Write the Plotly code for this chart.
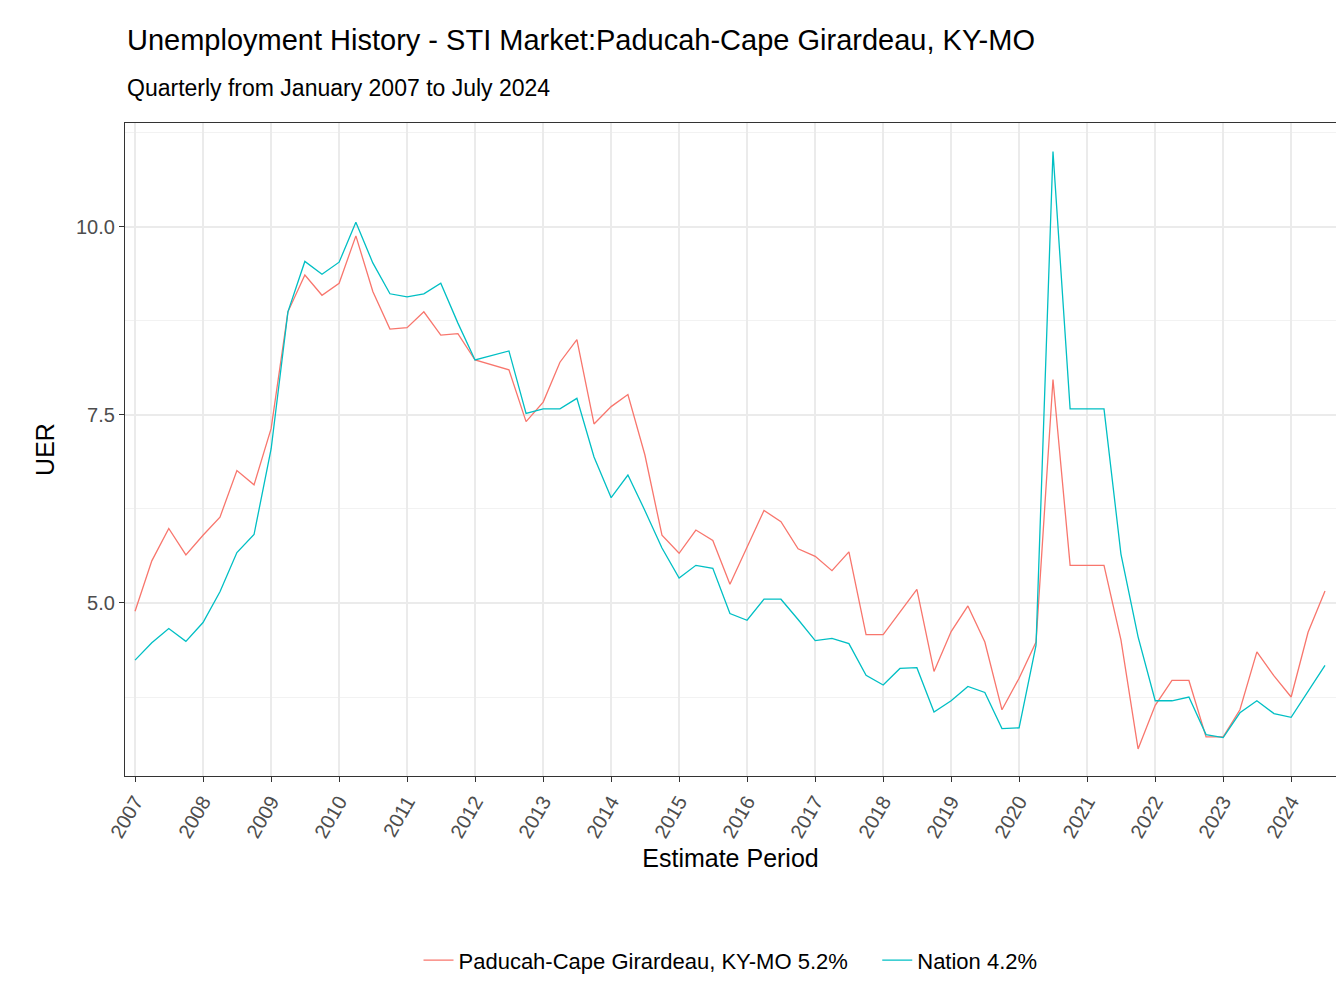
import pandas as pd
import plotly.graph_objects as go

periods = pd.date_range("2007-01-01", "2024-07-01", freq="QS")

paducah = [4.89, 5.56, 5.99, 5.64, 5.90, 6.14, 6.76, 6.57, 7.32, 8.87, 9.36, 9.09, 9.25, 9.88,
           9.14, 8.64, 8.66, 8.87, 8.56, 8.58, 8.23, 8.16, 8.10, 7.41, 7.67, 8.20, 8.50, 7.38,
           7.61, 7.77, 6.97, 5.90, 5.66, 5.97, 5.83, 5.25, 5.75, 6.23, 6.08, 5.72, 5.62, 5.43,
           5.68, 4.58, 4.58, 4.88, 5.18, 4.09, 4.62, 4.96, 4.48, 3.58, 4.00, 4.48, 7.97, 5.50,
           5.50, 5.50, 4.51, 3.06, 3.64, 3.97, 3.97, 3.22, 3.22, 3.58, 4.35, 4.03, 3.75, 4.61, 5.16]
nation = [4.24, 4.47, 4.66, 4.49, 4.74, 5.15, 5.67, 5.91, 7.05, 8.87, 9.54, 9.37, 9.53, 10.06,
          9.52, 9.11, 9.07, 9.11, 9.25, 8.72, 8.23, 8.29, 8.35, 7.52, 7.58, 7.58, 7.72, 6.94,
          6.40, 6.70, 6.23, 5.73, 5.33, 5.50, 5.46, 4.86, 4.77, 5.05, 5.05, 4.78, 4.50, 4.53,
          4.46, 4.04, 3.91, 4.13, 4.14, 3.55, 3.70, 3.89, 3.81, 3.33, 3.34, 4.44, 11.0, 7.58,
          7.58, 7.58, 5.65, 4.55, 3.70, 3.70, 3.75, 3.25, 3.21, 3.54, 3.70, 3.53, 3.48, 3.83, 4.17]

year_ticks = [f"{y}-01-01" for y in range(2007, 2025)]
year_labels = [str(y) for y in range(2007, 2025)]

fig = go.Figure()
fig.add_trace(go.Scatter(x=periods, y=paducah, mode="lines",
                         name="Paducah-Cape Girardeau, KY-MO 5.2%    ",
                         line=dict(color="#F8766D", width=1.3)))
fig.add_trace(go.Scatter(x=periods, y=nation, mode="lines", name="Nation 4.2%",
                         line=dict(color="#00BFC4", width=1.3)))

axis_common = dict(showline=True, linecolor="#333333", linewidth=1.3, mirror=True,
                   ticks="outside", ticklen=5, tickcolor="#333333",
                   tickfont=dict(size=20, color="#4d4d4d"), zeroline=False,
                   gridcolor="#ebebeb", gridwidth=2.2)

fig.update_xaxes(**axis_common, range=["2006-11-08", "2024-08-29"],
                 tickvals=year_ticks, ticktext=year_labels, tickangle=-60,
                 title=dict(text="Estimate Period", font=dict(size=25, color="black"), standoff=8))
fig.update_yaxes(**axis_common, range=[2.7, 11.38], tickvals=[5, 7.5, 10],
                 ticktext=["5.0", "7.5", "10.0"],
                 minor=dict(tickvals=[3.75, 6.25, 8.75, 11.25], showgrid=True,
                            gridcolor="#f2f2f2", gridwidth=1),
                 title=dict(text="UER", font=dict(size=25, color="black"), standoff=14))

fig.add_annotation(text="Unemployment History - STI Market:Paducah-Cape Girardeau, KY-MO",
                   xref="paper", yref="paper", x=0, y=1.127, xanchor="left", yanchor="middle",
                   showarrow=False, font=dict(size=29, color="black"))
fig.add_annotation(text="Quarterly from January 2007 to July 2024",
                   xref="paper", yref="paper", x=0, y=1.054, xanchor="left", yanchor="middle",
                   showarrow=False, font=dict(size=23, color="black"))

fig.update_layout(
    width=1344, height=1008,
    margin=dict(l=117, r=16, t=115, b=240),
    plot_bgcolor="white", paper_bgcolor="white",
    font=dict(family="Liberation Sans, Arial, sans-serif", color="black"),
    legend=dict(orientation="h", x=0.5, xanchor="center", y=-0.25, yanchor="top",
                font=dict(size=22)),
)

fig.write_html("out.html")
